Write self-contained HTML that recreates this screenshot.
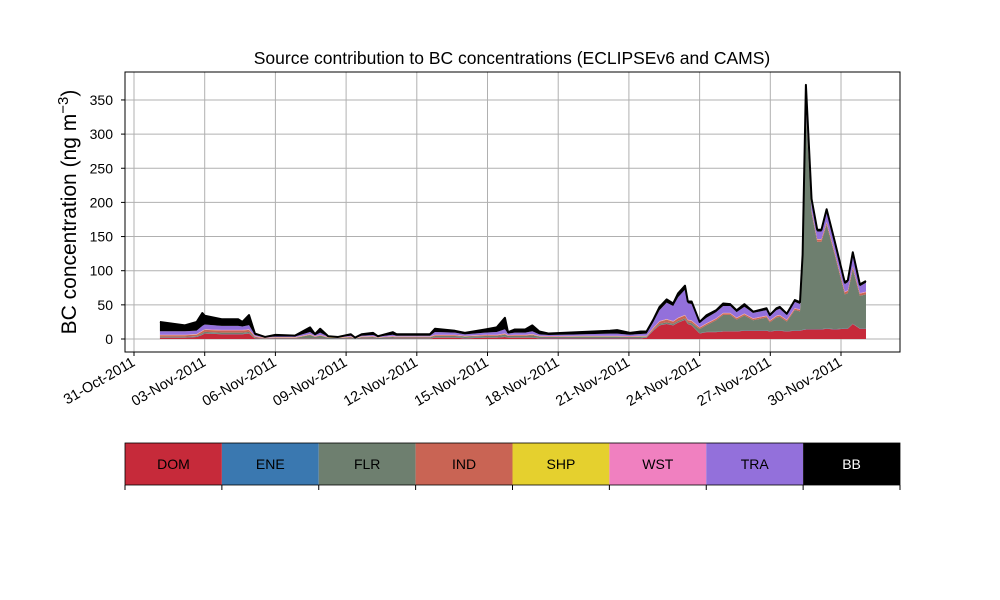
<!DOCTYPE html>
<html><head><meta charset="utf-8"><style>
html,body{margin:0;padding:0;background:#fff;}
svg{display:block;font-family:"Liberation Sans","DejaVu Sans",sans-serif;}
</style></head><body>
<svg id="chart" width="1000" height="600" viewBox="0 0 1000 600"></svg>
<script>
const times=[1.1,2.16,2.66,2.9,3.0,3.72,4.42,4.6,4.88,5.13,5.56,6.0,6.83,7.47,7.68,7.9,8.24,8.66,9.2,9.38,9.66,10.14,10.35,10.98,11.14,11.92,12.56,12.77,13.62,14.04,14.9,15.39,15.74,15.87,16.16,16.6,16.9,17.2,17.6,18.9,20.2,20.5,21.04,21.5,21.75,22.03,22.3,22.6,22.88,23.09,23.38,23.5,23.66,24.0,24.3,24.7,25.0,25.3,25.57,25.9,26.27,26.84,26.98,27.26,27.4,27.7,28.04,28.26,28.37,28.51,28.75,28.99,29.17,29.39,29.74,30.16,30.29,30.5,30.8,31.06];
const DOM=[2,2,3,6,8,7,7,7,8,1,.3,.5,.5,.5,.5,.5,.3,.3,.5,.2,.5,.5,.3,.5,.5,.5,.5,2,2,1,2,2,3,2,2,2,2,1,1,1,1,1,1,1,2,12,20,22,20,24,28,22,20,8,10,10,11,11,11,12,12,12,11,12,12,11,12,12,13,14,14,14,14,15,14,15,15,22,15,15];
const FLR=[1,1,1,2,2,2,2,2,2,1,.3,.5,.5,5,2,4,1,.5,1.5,.2,1.5,2,1,2,1.5,1.5,1.5,2,2,2,2,2,3,2,2,2,3,2,1.5,2,2,2,1.5,2,1,1,2,2,2,2,2,2,3,6,10,17,24,24,17,22,15,19,13,19,20,14,30,28,90,320,170,128,128,152,108,50,52,80,48,50];
const IND=[2,2,2,3,3,3,3,3,3,1,.3,.5,.5,.5,.5,.5,.3,.3,.5,.2,.5,.5,.3,.5,.5,.5,.5,1,1,.5,1,1,1,.5,1,1,1,.5,.5,.5,.5,.5,.5,.5,.5,2,3,4,3,4,4,3,3,2,2,2,2,2,2,2,2,2,2,2,2,2,2,2,3,4,3,3,3,3,3,3,3,3,3,3];
const TRA=[5,5,5,7,7,6,6,5,6,1.5,.4,.8,.8,3,1,3,.5,.3,1,.1,1,1.5,.5,2,1,1,1,4,3,2,3,4,6,2,3,3,4,2,1.5,2,3,3,2,2.5,3,8,16,24,22,30,37,24,24,6,8,9,10,10,8,10,8,8,6,8,9,7,9,8,12,25,12,11,11,14,13,11,12,17,10,13];
const BB=[13.7,8.7,12.7,18.7,12.7,9.7,9.7,6.7,14.7,2.2,.4,2.4,1.4,6.7,1.7,5.7,.6,.3,2.2,0,2.2,3.2,.6,3.7,2.2,2.2,2.2,4.7,2.7,2.2,4.7,6.7,16.7,2.2,4.7,4.7,8.7,4.2,2.2,3.2,4.2,5.2,2.7,3.7,3.2,3.7,4.7,4.7,3.7,5.7,5.7,2.7,3.7,1.7,3.7,2.7,3.7,2.7,2.7,3.7,1.7,2.7,1.7,2.7,2.7,1.7,2.7,2.7,3.7,7.7,4.7,2.7,2.7,4.7,2.7,2.7,2.7,3.7,2.7,2.7];
const ENE=times.map(()=>0.4), SHP=times.map(()=>0.3), WST=times.map(()=>0.6);
const seriesNames=["DOM","ENE","FLR","IND","SHP","WST","TRA","BB"];
const seriesColors=["#c62a3a","#3a78b0","#6e7f6f","#c96454","#e5d02e","#f080c0","#9370db","#000000"];
const seriesData=[DOM,ENE,FLR,IND,SHP,WST,TRA,BB];
const yTicks=[0,50,100,150,200,250,300,350];
const xTickDays=[0,3,6,9,12,15,18,21,24,27,30];
const xTickLabels=["31-Oct-2011","03-Nov-2011","06-Nov-2011","09-Nov-2011","12-Nov-2011","15-Nov-2011","18-Nov-2011","21-Nov-2011","24-Nov-2011","27-Nov-2011","30-Nov-2011"];

const NS="http://www.w3.org/2000/svg";
const svg=document.getElementById('chart');
const L=125,R=900,T=72,B=352;
const xs=t=>134+t*23.567;
const ys=v=>339-v*0.683;
function mk(tag,attrs,parent){const e=document.createElementNS(NS,tag);for(const k in attrs)e.setAttribute(k,attrs[k]);(parent||svg).appendChild(e);return e;}

const clip=mk('clipPath',{id:'pc'});mk('rect',{x:L,y:T,width:R-L,height:B-T},clip);
yTicks.forEach(v=>{const g=mk('line',{x1:L,x2:R,y1:ys(v),y2:ys(v),stroke:'#b0b0b0','stroke-width':1});

});
xTickDays.forEach(d=>{const g=mk('line',{x1:xs(d),x2:xs(d),y1:T,y2:B,stroke:'#b0b0b0','stroke-width':1});

});

let base=times.map(()=>0);
seriesData.forEach((arr,i)=>{
  const top=base.map((b,j)=>b+arr[j]);
  let d='M'+times.map((t,j)=>xs(t).toFixed(2)+','+ys(top[j]).toFixed(2)).join('L');
  for(let j=times.length-1;j>=0;j--) d+='L'+xs(times[j]).toFixed(2)+','+ys(base[j]).toFixed(2);
  d+='Z';
  const p=mk('path',{d:d,fill:seriesColors[i],'clip-path':'url(#pc)'});
  
  
  base=top;
});
const tl=mk('path',{d:'M'+times.map((t,j)=>xs(t).toFixed(2)+','+ys(base[j]).toFixed(2)).join('L'),fill:'none',stroke:'#000','stroke-width':2,'stroke-linejoin':'round'});



const fr=mk('rect',{x:L,y:T,width:R-L,height:B-T,fill:'none',stroke:'#000','stroke-width':1});



yTicks.forEach(v=>{
  mk('line',{x1:L-4,x2:L,y1:ys(v),y2:ys(v),stroke:'#000'});
  const t=mk('text',{x:L-12,y:ys(v)+5,'text-anchor':'end','font-size':14});t.textContent=v;
  
  
});
xTickDays.forEach((d,i)=>{
  const x=xs(d);
  mk('line',{x1:x,x2:x,y1:B,y2:B+4,stroke:'#000'});
  const t=mk('text',{x:x+2,y:B+13,'text-anchor':'end','font-size':14.5,transform:'rotate(-30 '+(x+2)+' '+(B+13)+')'});
  t.textContent=xTickLabels[i];
  
  
});
const ti=mk('text',{x:512,y:64,'text-anchor':'middle','font-size':17.5});ti.textContent='Source contribution to BC concentrations (ECLIPSEv6 and CAMS)';


const yl=mk('text',{x:0,y:0,'text-anchor':'middle','font-size':21,transform:'translate(76,212) rotate(-90)'});
yl.innerHTML='BC concentration (ng m<tspan dy="-8" font-size="15">−3</tspan><tspan dy="8">)</tspan>';



const lw=(R-L)/seriesNames.length;
seriesNames.forEach((n,i)=>{
  const r=mk('rect',{x:L+i*lw,y:443,width:lw,height:42,fill:seriesColors[i]});
  
  
  const t=mk('text',{x:L+i*lw+lw/2,y:469,'text-anchor':'middle','font-size':14,fill:n==='BB'?'#fff':'#000'});
  t.textContent=n;
  
  
});
for(let i=0;i<=seriesNames.length;i++) mk('line',{x1:L+i*lw,x2:L+i*lw,y1:485,y2:490,stroke:'#000'});
const lf=mk('rect',{x:L,y:443,width:R-L,height:42,fill:'none',stroke:'#000','stroke-width':0.8});


</script>
</body></html>
